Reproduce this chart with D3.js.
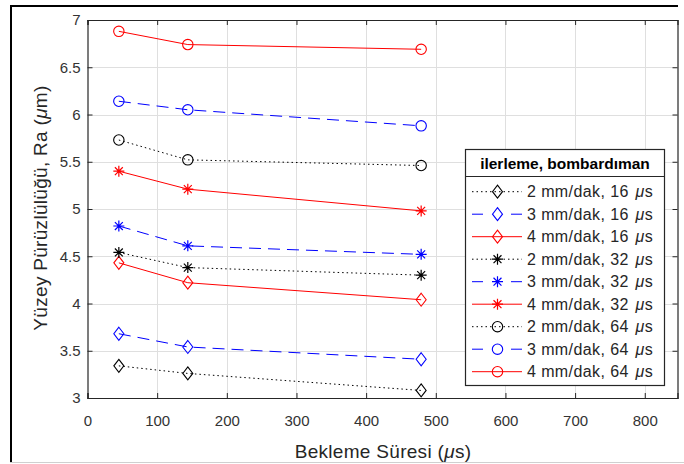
<!DOCTYPE html>
<html>
<head>
<meta charset="utf-8">
<script src="https://cdn.jsdelivr.net/npm/d3@7"></script>
<style>
  body { margin: 0; background: #fff; }
  svg { display: block; font-family: "Liberation Sans", Arial, sans-serif; }
</style>
</head>
<body>
<div id="chart"></div>
<script>
// bekleme suresi (us)
var xVals = [45, 144, 479];

// Ra values, one array per run
var ra_2_16 = [3.34, 3.26, 3.08];
var ra_3_16 = [3.68, 3.54, 3.41];
var ra_4_16 = [4.43, 4.22, 4.04];
var ra_2_32 = [4.54, 4.38, 4.30];
var ra_3_32 = [4.82, 4.61, 4.52];
var ra_4_32 = [5.40, 5.21, 4.98];
var ra_2_64 = [5.73, 5.52, 5.46];
var ra_3_64 = [6.14, 6.05, 5.88];
var ra_4_64 = [6.88, 6.74, 6.69];

var feeds = ["2", "3", "4"];
var pulses = ["16", "32", "64"];
var xTicks = [0, 100, 200, 300, 400, 500, 600, 700, 800];
var yTicks = [3, 3.5, 4, 4.5, 5, 5.5, 6, 6.5, 7];

var allRa = [ra_2_16, ra_3_16, ra_4_16, ra_2_32, ra_3_32, ra_4_32, ra_2_64, ra_3_64, ra_4_64];

var colorOf = { "2": "#000000", "3": "#0000ff", "4": "#ff0000" };
var dashOf = { "2": "1.5,3", "3": "12,7", "4": null };
var markerOf = { "16": "diamond", "32": "star", "64": "circle" };

var series = [];
pulses.forEach(function(p, pi) {
  feeds.forEach(function(f, fi) {
    series.push({ feed: f, pulse: p, values: allRa[pi * 3 + fi] });
  });
});

var W = 684, H = 464;
var svg = d3.select("#chart").append("svg").attr("width", W).attr("height", H);

// outer frame
svg.append("line").attr("x1", 11).attr("x2", 678).attr("y1", 6).attr("y2", 6)
  .attr("stroke", "#000").attr("stroke-width", 2);
svg.append("line").attr("x1", 11).attr("x2", 11).attr("y1", 5).attr("y2", 462)
  .attr("stroke", "#000").attr("stroke-width", 2);
svg.append("line").attr("x1", 10).attr("x2", 684).attr("y1", 462.5).attr("y2", 462.5)
  .attr("stroke", "#d0d0d0").attr("stroke-width", 1);

var pLeft = 87.5, pRight = 677.5, pTop = 20, pBottom = 398;
var x = d3.scaleLinear().domain([0, 847]).range([pLeft, pRight]);
var y = d3.scaleLinear().domain([3, 7]).range([pBottom, pTop]);

var axisColor = "#262626";

// grid
var grid = svg.append("g");
grid.selectAll(".vg").data(xTicks.slice(1)).enter().append("line")
  .attr("x1", function(d) { return Math.round(x(d)) + 0.5; })
  .attr("x2", function(d) { return Math.round(x(d)) + 0.5; })
  .attr("y1", pTop).attr("y2", pBottom)
  .attr("stroke", "#dfdfdf").attr("stroke-width", 1);
grid.selectAll(".hg").data(yTicks.slice(1, -1)).enter().append("line")
  .attr("y1", function(d) { return Math.round(y(d)) + 0.5; })
  .attr("y2", function(d) { return Math.round(y(d)) + 0.5; })
  .attr("x1", pLeft).attr("x2", pRight)
  .attr("stroke", "#dfdfdf").attr("stroke-width", 1);

// axes
var xAxis = d3.axisBottom(x).tickValues(xTicks).tickSize(-5).tickPadding(17);
var yAxis = d3.axisLeft(y).tickValues(yTicks).tickSize(-5).tickPadding(7)
  .tickFormat(function(d) { return String(d); });

var gx = svg.append("g").attr("transform", "translate(0," + pBottom + ")").call(xAxis);
var gy = svg.append("g").attr("transform", "translate(" + pLeft + ",0)").call(yAxis);
// top and right box sides with inward ticks
var gx2 = svg.append("g").attr("transform", "translate(0," + pTop + ")")
  .call(d3.axisTop(x).tickValues(xTicks).tickSize(-5).tickFormat(""));
var gy2 = svg.append("g").attr("transform", "translate(" + pRight + ",0)")
  .call(d3.axisRight(y).tickValues(yTicks).tickSize(-5).tickFormat(""));

[gx, gy, gx2, gy2].forEach(function(g) {
  g.select(".domain").attr("stroke", axisColor).attr("stroke-width", 1.2);
  g.selectAll(".tick line").attr("stroke", axisColor);
  g.selectAll(".tick text").attr("fill", "#333").style("font-size", "15px")
    .style("font-family", "'Liberation Sans', Arial, sans-serif");
});

// axis titles
var xt = svg.append("text").attr("x", 383).attr("y", 458)
  .attr("text-anchor", "middle").attr("fill", "#262626")
  .style("font-size", "19px").style("letter-spacing", "0.3px");
xt.append("tspan").text("Bekleme Süresi (");
xt.append("tspan").text("μ").style("font-style", "italic");
xt.append("tspan").text("s)");

var yt = svg.append("text").attr("transform", "translate(47,208) rotate(-90)")
  .attr("text-anchor", "middle").attr("fill", "#262626")
  .style("font-size", "19px").style("letter-spacing", "0.3px");
yt.append("tspan").text("Yüzey Pürüzlülüğü, Ra (");
yt.append("tspan").text("μ").style("font-style", "italic");
yt.append("tspan").text("m)");

// marker drawing
function drawMarker(g, type, color) {
  if (type === "diamond") {
    g.append("path").attr("d", "M0,-6.5L5,0L0,6.5L-5,0Z")
      .attr("fill", "none").attr("stroke", color).attr("stroke-width", 1.1);
  } else if (type === "circle") {
    g.append("circle").attr("r", 5.2)
      .attr("fill", "none").attr("stroke", color).attr("stroke-width", 1.1);
  } else {
    var r = 5.5, d = r * 0.72;
    var p = "M0," + (-r) + "V" + r + "M" + (-r) + ",0H" + r +
      "M" + (-d) + "," + (-d) + "L" + d + "," + d + "M" + (-d) + "," + d + "L" + d + "," + (-d);
    g.append("path").attr("d", p).attr("fill", "none").attr("stroke", color).attr("stroke-width", 1.2);
  }
}

var line = d3.line()
  .x(function(d, i) { return x(xVals[i]); })
  .y(function(d) { return y(d); });

var plot = svg.append("g");
series.forEach(function(s) {
  var c = colorOf[s.feed];
  plot.append("path").datum(s.values).attr("d", line)
    .attr("fill", "none").attr("stroke", c).attr("stroke-width", 1)
    .attr("stroke-dasharray", dashOf[s.feed]);
  s.values.forEach(function(v, i) {
    var g = plot.append("g").attr("transform", "translate(" + x(xVals[i]) + "," + y(v) + ")");
    drawMarker(g, markerOf[s.pulse], c);
  });
});

// legend
var lg = svg.append("g");
var lx0 = 465.5, lx1 = 664.5, ly0 = 149.5, ly1 = 385.5;
lg.append("rect").attr("x", lx0).attr("y", ly0).attr("width", lx1 - lx0).attr("height", ly1 - ly0)
  .attr("fill", "#fff").attr("stroke", axisColor).attr("stroke-width", 1.2);
lg.append("line").attr("x1", lx0).attr("x2", lx1).attr("y1", 176.5).attr("y2", 176.5)
  .attr("stroke", axisColor).attr("stroke-width", 1.2);
lg.append("text").attr("x", (lx0 + lx1) / 2).attr("y", 169).attr("text-anchor", "middle")
  .attr("fill", "#000").style("font-size", "15.5px").style("font-weight", "bold")
  .text("ilerleme, bombardıman");

series.forEach(function(s, i) {
  var cy = 191.7 + i * 22.5;
  var c = colorOf[s.feed];
  lg.append("line").attr("x1", 472).attr("x2", 522).attr("y1", cy).attr("y2", cy)
    .attr("stroke", c).attr("stroke-width", 1)
    .attr("stroke-dasharray", s.feed === "3" ? "11,28" : dashOf[s.feed]);
  var g = lg.append("g").attr("transform", "translate(497.5," + cy + ")");
  drawMarker(g, markerOf[s.pulse], c);
  var t = lg.append("text").attr("x", 527).attr("y", cy + 5.5).attr("fill", "#262626")
    .style("font-size", "16px").style("letter-spacing", "0.4px");
  t.append("tspan").text(s.feed + " mm/dak, " + s.pulse + " ");
  t.append("tspan").attr("dx", 2).text("μ").style("font-style", "italic");
  t.append("tspan").text("s");
});
</script>
</body>
</html>
